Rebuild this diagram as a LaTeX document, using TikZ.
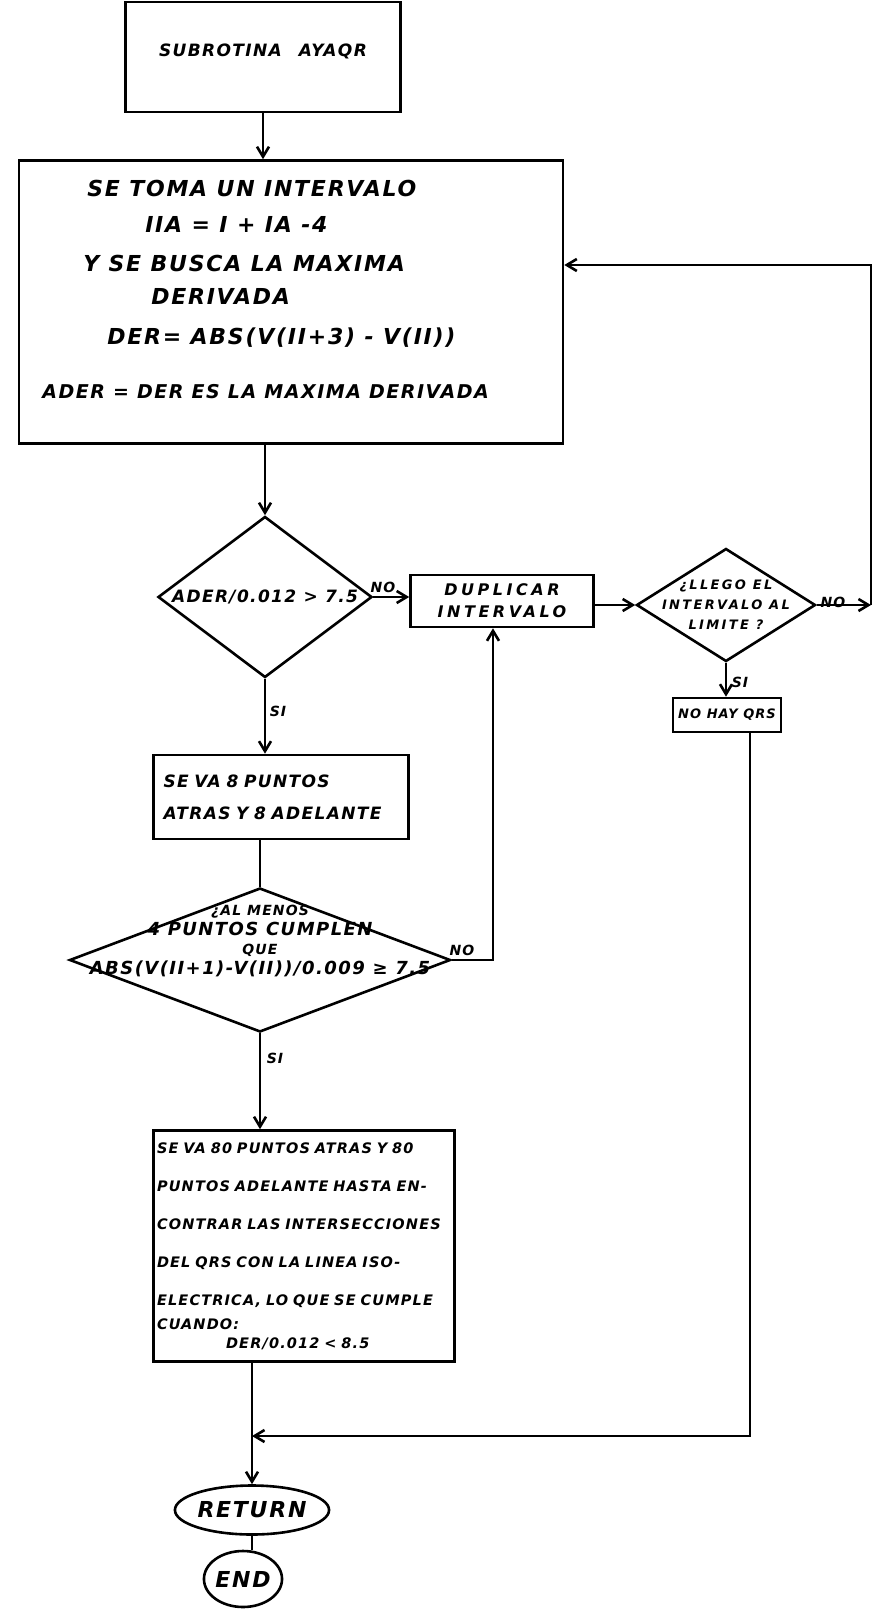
\documentclass[tikz,border=0pt]{standalone}
\usepackage{fontspec}
\newfontfamily\hand{DejaVu Sans}[LetterSpace=8]
\usetikzlibrary{shapes.geometric,arrows.meta}

\newcommand\handfont[2]{\hand\bfseries\itshape\fontsize{#1}{#2}\selectfont}

\tikzset{
  proc/.style={draw, rectangle, inner sep=0pt, align=center},
  decision/.style={draw, diamond, inner sep=0pt},
  term/.style={draw, ellipse, inner sep=0pt},
  lbl/.style={font=\handfont{14}{16}, inner sep=1pt}
}

\begin{document}
\begin{tikzpicture}[x=1pt, y=-1pt, line width=2.6pt,
    >={Straight Barb[length=10pt,width=12pt]}]
    \useasboundingbox (0,0) rectangle (875,1610);

    \node[proc, minimum width=275pt, minimum height=110pt, font=\handfont{17}{20}] (sub) at (263,57) {\raisebox{13pt}{SUBROTINA\quad AYAQR}};
    \node[proc, minimum width=544pt, minimum height=283pt] (tom) at (291,302) {};
    \node[font=\handfont{22}{27}, align=left, anchor=north west, inner sep=0pt] (tomt) at (41,179)
      {\hspace*{45pt}SE TOMA UN INTERVALO\\[9pt]
       \hspace*{103pt}IIA = I + IA -4\\[12pt]
       \hspace*{41pt}Y SE BUSCA LA MAXIMA\\[6pt]
       \hspace*{109pt}DERIVADA\\[13pt]
       \hspace*{65pt}DER= ABS(V(II+3) - V(II))\\[27pt]
       {\fontsize{19}{27}\selectfont ADER = DER ES LA MAXIMA DERIVADA}};

    \node[decision, minimum width=214pt, minimum height=161pt] (ader) at (265,597) {};
    \node[font=\handfont{17}{20}] (adert) at (ader) {ADER/0.012 > 7.5};
    \node[proc, minimum width=183pt, minimum height=52pt, font=\handfont{16}{22}\addfontfeature{LetterSpace=22}] (dup) at (502,601) {DUPLICAR\\INTERVALO};
    \node[decision, minimum width=179pt, minimum height=113pt] (lim) at (726,605) {};
    \node[font=\handfont{13}{20}\addfontfeature{LetterSpace=18}, align=center] (limt) at (lim) {¿LLEGO EL\\INTERVALO AL\\LIMITE ?};
    \node[proc, minimum width=108pt, minimum height=34pt, font=\handfont{13}{16}] (nohay) at (727,715) {NO HAY QRS};

    \node[proc, minimum width=255pt, minimum height=84pt, font=\handfont{17}{22}, align=left, text width=235pt] (va8) at (281,797)
      {SE VA 8 PUNTOS\\[10pt]ATRAS Y 8 ADELANTE};
    \node[decision, minimum width=381pt, minimum height=144pt] (menos) at (260,960) {};
    \node[font=\handfont{18}{19.5}, align=center] (menost) at (260,941)
      {{\fontsize{14}{19.5}\selectfont ¿AL MENOS}\\4 PUNTOS CUMPLEN\\{\fontsize{14}{19.5}\selectfont QUE}\\ABS(V(II+1)-V(II))/0.009 ≥ 7.5};

    \node[proc, minimum width=301pt, minimum height=231pt, font=\handfont{14.5}{38}, align=left, text width=294pt] (ochenta) at (304,1246)
      {SE VA 80 PUNTOS ATRAS Y 80\\
       PUNTOS ADELANTE HASTA EN-\\
       CONTRAR LAS INTERSECCIONES\\
       DEL QRS CON LA LINEA ISO-\\
       ELECTRICA, LO QUE SE CUMPLE\\[-14pt]
       CUANDO:\\[-19pt]
       \hspace*{69pt}DER/0.012 < 8.5};

    \node[term, minimum width=146pt, minimum height=49pt, font=\handfont{22}{24}] (ret) at (252,1510) {RETURN};
    \node[term, minimum width=74pt, minimum height=56pt, font=\handfont{22}{24}] (fin) at (243,1579) {END};

    \node[lbl] (no1) at (383,587) {NO};
    \node[lbl] (no2) at (833,602) {NO};
    \node[lbl] (si2) at (740,682) {SI};
    \node[lbl] (si1) at (278,711) {SI};
    \node[lbl] (no3) at (462,950) {NO};
    \node[lbl] (si3) at (275,1058) {SI};

    \coordinate (rr) at (871,265);
    \coordinate (up) at (493,960);
    \coordinate (dn) at (750,1436);
    \coordinate (jn) at (252,1436);

    \draw[->] (sub.south) -- (sub.south |- tom.north);
    \draw[->] (tom.south -| ader.north) -- (ader.north);
    \draw[->] (ader.east) -- (ader.east -| dup.west);
    \draw[->] (dup.east |- lim.west) -- (lim.west);
    \draw[->] (lim.east) -- (lim.east -| rr);
    \draw[->] (lim.east -| rr) -- (rr) -- (rr -| tom.east);
    \draw[->] (lim.south) -- (lim.south |- nohay.north);
    \draw[->] (nohay.south -| dn) -- (dn) -- (jn);
    \draw[->] (ader.south) -- (ader.south |- va8.north);
    \draw (va8.south -| menos.north) -- (menos.north);
    \draw[->] (menos.east) -- (up) -- (up |- dup.south);
    \draw[->] (menos.south) -- (menos.south |- ochenta.north);
    \draw[->] (ochenta.south -| ret.north) -- (ret.north);
    \draw (ret.south) -- (ret.south |- fin.north);
\end{tikzpicture}
\end{document}
